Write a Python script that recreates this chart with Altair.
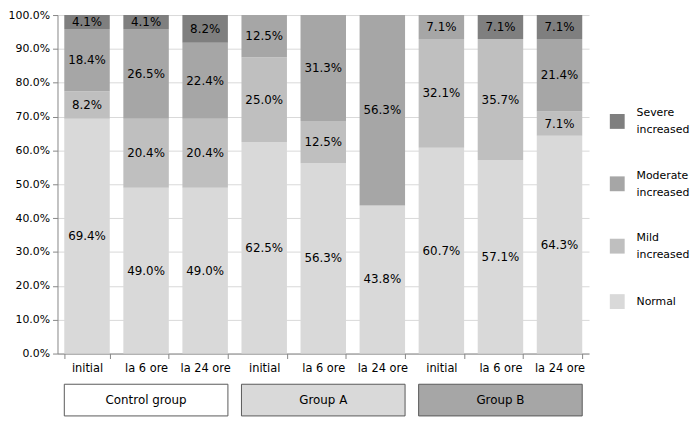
import altair as alt
import pandas as pd

groups = ["Control group", "Group A", "Group B"]
times = ["initial", "la 6 ore", "la 24 ore"]
categories = ["Normal", "Mild increased", "Moderate increased", "Severe increased"]
cat_colors = ["#d9d9d9", "#bfbfbf", "#a6a6a6", "#7f7f7f"]
group_fills = ["#ffffff", "#d9d9d9", "#a6a6a6"]

normal = [69.4, 49.0, 49.0, 62.5, 56.3, 43.8, 60.7, 57.1, 64.3]
mild = [8.2, 20.4, 20.4, 25.0, 12.5, 0.0, 32.1, 35.7, 7.1]
moderate = [18.4, 26.5, 22.4, 12.5, 31.3, 56.3, 7.1, 0.0, 21.4]
severe = [4.1, 4.1, 8.2, 0.0, 0.0, 0.0, 0.0, 7.1, 7.1]
y_ticks = [0.0, 0.1, 0.2, 0.3, 0.4, 0.5, 0.6, 0.7, 0.8, 0.9, 1.0]

series = [normal, mild, moderate, severe]
rows = []
bar_ids = []
for gi, g in enumerate(groups):
    for ti, t in enumerate(times):
        bid = f"{g}|{t}"
        bar_ids.append(bid)
        k = gi * 3 + ti
        for ci, c in enumerate(categories):
            rows.append(dict(bar=bid, group=g, time=t, cat=c, ord=ci,
                             value=series[ci][k] / 100.0))
df = pd.DataFrame(rows)
gdf = pd.DataFrame({"group": groups})

FONT = "DejaVu Sans"
W = 537
H = 342
AX = "#868686"

x_top = alt.X(
    "bar:N", sort=bar_ids, title=None,
    scale=alt.Scale(paddingInner=0.23, paddingOuter=0.115),
    axis=alt.Axis(labelExpr="split(datum.label, '|')[1]", labelAngle=0,
                  tickBand="extent", domainColor=AX, tickColor=AX, tickSize=5,
                  labelPadding=4, grid=False, labelFontSize=11.5),
)
y_axis = alt.Axis(format=".1%", values=y_ticks, labelOverlap=False,
                  domainColor=AX, tickColor=AX, tickSize=5, labelPadding=3,
                  labelFontSize=11, grid=True, gridColor="#d9d9d9")
y_top = alt.Y("value:Q", stack="normalize", title=None,
              scale=alt.Scale(domain=[0, 1]), axis=y_axis)

rev_cats = categories[::-1]
rev_cols = cat_colors[::-1]

bars = alt.Chart(df).mark_bar().encode(
    x=x_top,
    y=y_top,
    color=alt.Color(
        "cat:N",
        scale=alt.Scale(domain=rev_cats, range=rev_cols),
        legend=alt.Legend(
            title=None, orient="none", legendX=558, legendY=100,
            symbolType="square", symbolSize=225, symbolStrokeWidth=0,
            labelOffset=12, rowPadding=34, labelFont=FONT, labelFontSize=11,
            labelColor="#000000", labelLimit=120,
            labelBaseline=alt.ExprRef(
                expr="indexof(datum.value, ' ') > 0 ? 'line-bottom' : 'middle'"),
            labelExpr="split(datum.label, ' ')",
        ),
    ),
    order=alt.Order("ord:Q"),
)

labels = (
    alt.Chart(df)
    .transform_stack(stack="value", groupby=["bar"],
                     sort=[alt.SortField("ord", order="ascending")],
                     offset="normalize", as_=["v0", "v1"])
    .transform_calculate(mid="(datum.v0 + datum.v1) / 2")
    .transform_filter("datum.value > 0")
    .mark_text(font=FONT, fontSize=12, color="#000000")
    .encode(
        x=alt.X("bar:N", sort=bar_ids),
        y=alt.Y("mid:Q", axis=y_axis),
        text=alt.Text("value:Q", format=".1%"),
    )
)

top = alt.layer(bars, labels).properties(width=W, height=H)

xb = alt.X("group:N", sort=groups, title=None,
           scale=alt.Scale(paddingInner=0.0765, paddingOuter=0.0385), axis=None)
boxes = alt.Chart(gdf).mark_rect(stroke="#595959", strokeWidth=1).encode(
    x=xb,
    color=alt.Color("group:N", scale=alt.Scale(domain=groups, range=group_fills),
                    legend=None),
)
boxtext = alt.Chart(gdf).mark_text(font=FONT, fontSize=12, color="#000000").encode(
    x=xb, text="group:N"
)
bottom = alt.layer(boxes, boxtext).properties(width=W, height=32)

chart = (
    alt.vconcat(top, bottom, spacing=9)
    .resolve_scale(x="independent", color="independent")
    .properties(padding={"left": 0, "top": -1, "right": 0, "bottom": 0})
    .configure(style={"guide-label": {"lineHeight": 17}})
    .configure_view(stroke=None)
    .configure_axis(labelFont=FONT, labelColor="#000000")
)

chart.save("out.html", embed_options={"renderer": "svg", "actions": False})
